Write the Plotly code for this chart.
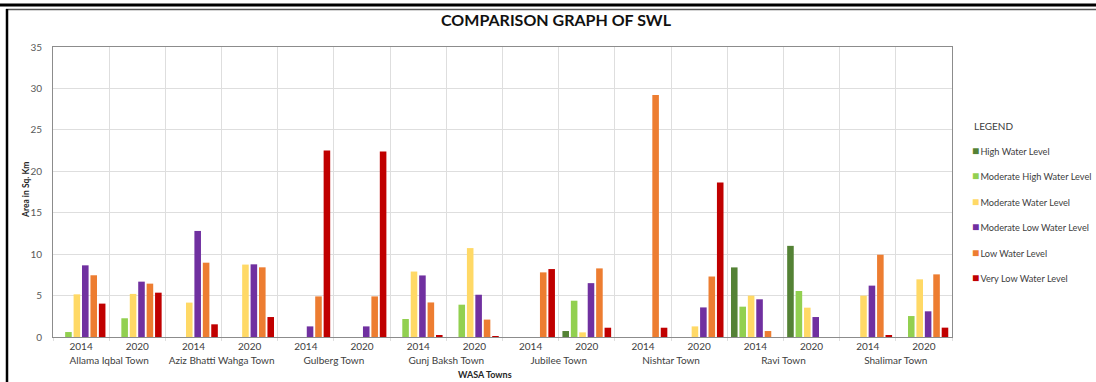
import plotly.graph_objects as go

# ---- data -------------------------------------------------------------
towns = ["Allama Iqbal Town", "Aziz Bhatti Wahga Town", "Gulberg Town", "Gunj Baksh Town",
         "Jubilee Town", "Nishtar Town", "Ravi Town", "Shalimar Town"]
years = ["2014", "2020"]

series_names = ["High Water Level", "Moderate High Water Level", "Moderate Water Level",
                "Moderate Low Water Level", "Low Water Level", "Very Low Water Level"]

# area (sq. km) per town/year, order: town1-2014, town1-2020, town2-2014, ...
high_water = [0, 0, 0, 0, 0, 0, 0, 0, 0, 0.72, 0, 0, 8.4, 11.0, 0, 0]
moderate_high_water = [0.6, 2.26, 0, 0, 0, 0, 2.17, 3.9, 0, 4.38, 0, 0, 3.66, 5.55, 0, 2.53]
moderate_water = [5.15, 5.2, 4.15, 8.74, 0, 0, 7.9, 10.73, 0, 0.56, 0, 1.28, 4.99, 3.54, 4.99, 6.96]
moderate_low_water = [8.65, 6.68, 12.8, 8.77, 1.28, 1.28, 7.43, 5.1, 0, 6.5, 0, 3.57, 4.55, 2.41, 6.2, 3.1]
low_water = [7.45, 6.44, 8.97, 8.41, 4.9, 4.9, 4.17, 2.1, 7.8, 8.28, 29.2, 7.3, 0.72, 0, 9.93, 7.56]
very_low_water = [4.03, 5.35, 1.53, 2.41, 22.5, 22.4, 0.15, 0.05, 8.2, 1.12, 1.12, 18.66, 0, 0, 0.2, 1.13]

series_values = [high_water, moderate_high_water, moderate_water,
                 moderate_low_water, low_water, very_low_water]

# ---- styling ------------------------------------------------------------
colors = ["#548235", "#92d050", "#ffd966", "#7030a0", "#ed7d31", "#c00000"]
FONT = "Lato, Liberation Sans, Arial, sans-serif"
W, H = 1096, 382
L, R, T, B = 53, 144, 47, 45
PW, PH = W - L - R, H - T - B


def px_x(p):
    return (p - L) / PW


def px_y(p):
    return (H - B - p) / PH


x_cats = [[t for t in towns for _ in years], [y for _ in towns for y in years]]

fig = go.Figure()
for name, vals, col in zip(series_names, series_values, colors):
    fig.add_trace(go.Bar(x=x_cats, y=vals, name=name, marker=dict(color=col, line=dict(width=0)),
                         showlegend=False))

fig.update_layout(
    width=W, height=H,
    margin=dict(l=L, r=R, t=T, b=B),
    paper_bgcolor="white", plot_bgcolor="white",
    barmode="group", bargap=0.1, bargroupgap=0.22,
    font=dict(family=FONT, size=10, color="#404040"),
    title=dict(text="<b>COMPARISON GRAPH OF SWL</b>", x=556 / W, xanchor="center",
               y=1 - 20 / H, yanchor="middle",
               font=dict(family=FONT, size=16, color="#111111")),
    xaxis=dict(type="multicategory", tickson="boundaries", showgrid=True, gridcolor="#dedede",
               showline=True, linecolor="#8c8c8c", mirror=True, ticks="outside", ticklen=3,
               tickcolor="#dedede", showdividers=False,
               tickfont=dict(family=FONT, size=10, color="#404040")),
    yaxis=dict(range=[0, 35], dtick=5, showgrid=True, gridcolor="#dedede", showline=True,
               linecolor="#8c8c8c", mirror=True, ticks="", ticklabelstandoff=8, zeroline=False,
               tickfont=dict(family=FONT, size=10, color="#595959")),
)

annotations = [
    dict(text="<b>Area in Sq. Km</b>", x=px_x(26), y=px_y(190), textangle=-90,
         font=dict(family=FONT, size=8.5, color="#262626")),
    dict(text="<b>WASA Towns</b>", x=px_x(485), y=px_y(374),
         font=dict(family=FONT, size=9, color="#262626")),
    dict(text="LEGEND", x=px_x(972), y=px_y(126), xanchor="left",
         font=dict(family=FONT, size=10, color="#404040")),
]
for i, (name, col) in enumerate(zip(series_names, colors)):
    annotations.append(dict(
        text=f"<span style='color:{col};font-size:12px'>■</span>\u2009{name}",
        x=px_x(970), y=px_y(150 + 25.5 * i), xanchor="left",
        font=dict(family=FONT, size=9.2, color="#404040")))
for a in annotations:
    a.update(xref="paper", yref="paper", showarrow=False, yanchor=a.get("yanchor", "middle"),
             xanchor=a.get("xanchor", "center"))
fig.update_layout(annotations=annotations)

# page frame around the figure
fig.update_layout(shapes=[
    dict(type="line", xref="paper", yref="paper", x0=px_x(0), x1=px_x(W), y0=px_y(5), y1=px_y(5),
         line=dict(color="black", width=3)),
    dict(type="line", xref="paper", yref="paper", x0=px_x(6), x1=px_x(W), y0=px_y(9.5), y1=px_y(9.5),
         line=dict(color="#555555", width=1.5)),
    dict(type="line", xref="paper", yref="paper", x0=px_x(7), x1=px_x(7), y0=px_y(9), y1=px_y(H),
         line=dict(color="black", width=2.5)),
])

fig.write_html("out.html")
